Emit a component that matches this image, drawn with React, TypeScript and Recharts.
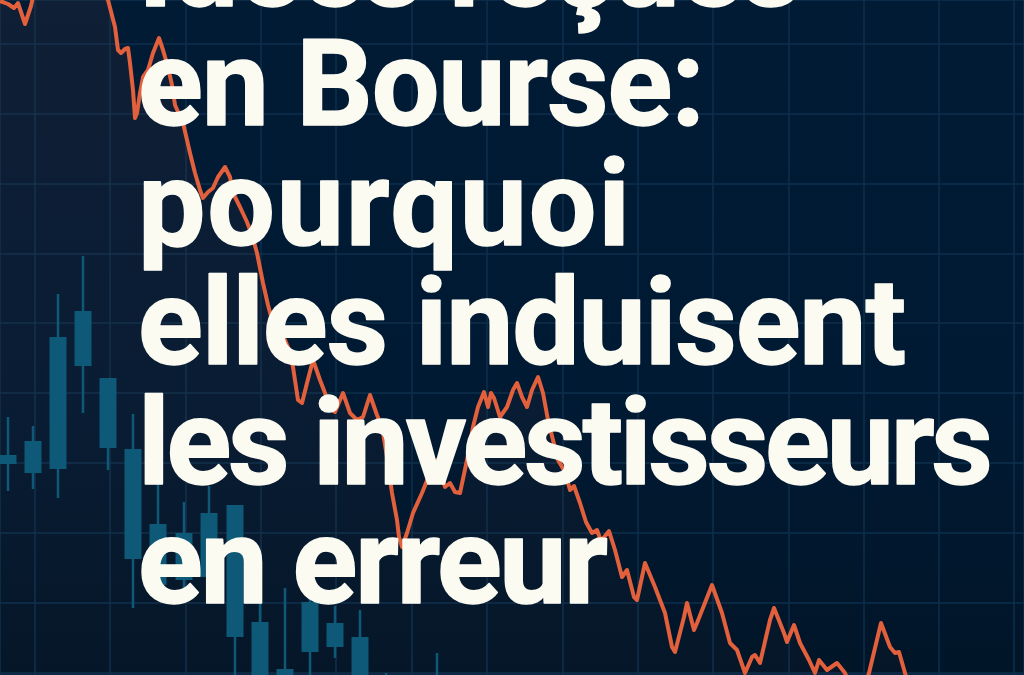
import { ComposedChart, Area, Scatter, ErrorBar, XAxis, YAxis, CartesianGrid } from "recharts"

// price trace: [session, price]
const priceLine: [number, number][] = [
  [0, 67.4], [0.8, 67.1], [1.4, 66.7], [1.8, 67.2], [2.5, 65.1], [3.1, 66.9], [3.5, 68.7],
  [6.0, 70.5], [8.5, 70.0], [10.0, 68.7], [10.8, 67.5], [11.5, 64.8], [11.8, 62.5], [12.1, 62.2],
  [12.5, 62.6], [12.8, 62.7], [13.0, 61.2], [13.3, 58.5], [13.5, 55.7], [13.7, 56.2], [14.0, 58.2],
  [14.3, 59.8], [14.8, 60.5], [15.3, 62.2], [15.9, 63.7], [16.3, 62.5], [16.8, 60.8], [17.2, 59.0],
  [17.5, 57.0], [18.3, 55.2], [18.7, 53.5], [19.0, 52.2], [19.5, 50.2], [20.0, 48.5], [20.3, 47.7],
  [20.8, 48.3], [21.3, 48.7], [21.8, 49.8], [22.5, 50.8], [23.0, 49.8], [23.3, 48.2], [24.0, 46.8],
  [24.7, 45.3], [25.2, 44.0], [25.7, 42.2], [26.3, 39.2], [26.8, 37.0], [27.2, 35.5], [28.0, 34.2],
  [28.5, 33.5], [29.0, 32.3], [29.3, 30.8], [29.8, 27.5], [30.2, 27.2], [30.7, 29.2], [31.3, 31.5],
  [32.0, 29.5], [32.5, 28.2], [33.0, 26.8], [33.5, 26.3], [34.3, 28.2], [35.0, 26.2], [35.7, 25.5],
  [36.3, 25.8], [37.0, 28.0], [37.7, 26.0], [38.2, 24.8], [38.7, 21.8], [39.2, 18.2], [39.7, 15.5],
  [39.9, 13.8], [40.2, 12.8], [40.7, 14.2], [41.3, 16.2], [42.2, 18.2], [43.0, 20.2], [43.7, 21.5],
  [44.5, 18.8], [45.0, 19.2], [45.5, 18.3], [46.0, 18.2], [46.7, 21.5], [47.3, 24.8], [47.8, 26.8],
  [48.4, 28.3], [48.8, 26.8], [49.1, 28.2], [49.4, 27.7], [50.0, 25.8], [50.7, 26.8], [51.3, 28.5],
  [51.7, 29.2], [52.2, 27.8], [52.7, 26.8], [53.2, 28.5], [53.8, 29.8], [54.3, 28.2], [54.8, 25.5],
  [55.3, 23.5], [55.8, 21.5], [56.5, 20.3], [57.0, 18.5], [57.4, 18.9], [58.0, 17.2], [58.6, 15.3],
  [59.2, 14.2], [59.7, 14.5], [60.1, 13.4], [60.9, 14.4], [61.5, 12.5], [62.2, 9.8], [62.7, 10.5],
  [63.4, 7.8], [63.7, 7.5], [64.5, 11.2], [65.5, 8.8], [66.5, 6.2], [67.2, 2.8], [67.5, 2.3],
  [68.4, 5.8], [68.7, 7.2], [69.4, 4.5], [69.7, 5.2], [71.2, 9.0], [72.2, 6.2], [73.0, 3.2],
  [73.7, 2.5], [74.5, 0.2], [75.2, 1.8], [75.5, 2.0], [76.0, 1.2], [77.0, 5.5], [77.4, 6.7],
  [78.4, 4.2], [78.7, 3.3], [79.4, 5.0], [80.0, 3.2], [80.9, 1.5], [81.5, 0.2], [81.9, 1.5],
  [82.7, 0.5], [83.7, 1.2], [84.5, 0.2], [85.0, -1.0], [86.5, -1.0], [86.9, 0.2], [88.1, 5.2],
  [89.0, 2.8], [89.5, 2.2], [89.9, 2.3], [90.5, 0.2], [91.0, -1.5],
]

// candlesticks
const candleTime = [0.8, 3.3, 5.8, 8.3, 10.8, 13.3, 15.8, 18.4, 20.9, 23.5, 26.0, 28.5, 31.0, 33.5, 36.0, 38.6, 43.7]
const candleHigh = [25.8, 24.9, 38.1, 41.9, 29.7, 26.1, 19.1, 17.3, 18.9, 17.0, 8.3, 8.7, 9.0, 6.9, 6.5, 0.2, 2.2]
const candleBodyTop = [22.0, 23.4, 33.8, 36.4, 29.7, 22.6, 15.1, 14.2, 16.2, 17.0, 5.3, 0.6, 7.3, 5.2, 3.8, -1.5, -0.5]
const candleBodyBottom = [21.1, 20.2, 20.6, 30.9, 22.7, 11.6, 9.0, 9.5, 9.8, 3.8, -1.5, -2.5, 2.3, 2.8, -2.5, -3.5, -2.5]
const candleLow = [18.4, 18.6, 17.7, 26.2, 20.5, 6.7, 8.0, 8.3, 7.3, -1.5, -2.5, -3.5, -1.5, 1.7, -3.5, -4.5, -3.5]

const gridX = [3.5, 11.0, 18.6, 26.1, 33.6, 41.2, 48.7, 56.3, 63.8, 71.3, 78.9, 86.4, 93.9, 101.4]
const gridY = [63.1, 56.1, 49.1, 42.1, 35.2, 28.2, 21.2, 14.2, 7.2, 0.2]

const titleLines = ["Idées reçues", "en Bourse:", "pourquoi", "elles induisent", "les investisseurs", "en erreur"]
const titleWidths = [664, 567, 492, 768, 855, 470]

const priceData = priceLine.map(([t, price]) => ({ t, price }))
const candleData = candleTime.map((t, i) => ({
  t,
  top: candleBodyTop[i],
  body: [candleBodyTop[i] - candleBodyBottom[i], 0],
  wick: [candleBodyTop[i] - candleLow[i], candleHigh[i] - candleBodyTop[i]],
}))

export default function App() {
  return (
    <div
      style={{
        position: "absolute",
        top: 0,
        left: 0,
        width: 1024,
        height: 675,
        overflow: "hidden",
        background: "linear-gradient(180deg, #021b35 0%, #011a33 60%, #011528 100%)",
      }}
    >
      <ComposedChart width={1024} height={675} data={priceData} margin={{ top: 0, right: 0, bottom: 0, left: 0 }}>
        <defs>
          <linearGradient id="priceFill" x1="0" y1="0" x2="0" y2="1">
            <stop offset="0%" stopColor="#e2603c" stopOpacity={0.1} />
            <stop offset="100%" stopColor="#e2603c" stopOpacity={0.03} />
          </linearGradient>
        </defs>
        <CartesianGrid stroke="#0d2f4d" strokeWidth={1.5} />
        <XAxis type="number" dataKey="t" domain={[0, 102.4]} ticks={gridX} allowDataOverflow hide />
        <YAxis type="number" domain={[0, 67.5]} ticks={gridY} allowDataOverflow hide />
        <Scatter data={candleData} dataKey="top" shape={() => <g />} isAnimationActive={false}>
          <ErrorBar dataKey="wick" direction="y" width={0} stroke="#0d5977" strokeWidth={2.5} />
          <ErrorBar dataKey="body" direction="y" width={0} stroke="#0d5977" strokeWidth={17} />
        </Scatter>
        <Area
          type="linear"
          dataKey="price"
          stroke="#e2603c"
          strokeWidth={4}
          strokeLinejoin="round"
          fill="url(#priceFill)"
          dot={false}
          activeDot={false}
          isAnimationActive={false}
        />
      </ComposedChart>
      <svg width={1024} height={675} style={{ position: "absolute", top: 0, left: 0 }}>
        {titleLines.map((line, i) => (
          <text
            key={line}
            x={138}
            y={6 + i * 119.4}
            textLength={titleWidths[i]}
            lengthAdjust="spacing"
            fontFamily="Roboto"
            fontWeight={700}
            fontSize={120}
            fill="#fcfbf2"
            stroke="#fcfbf2"
            strokeWidth={1.5}
            strokeLinejoin="round"
          >
            {line}
          </text>
        ))}
      </svg>
    </div>
  )
}
